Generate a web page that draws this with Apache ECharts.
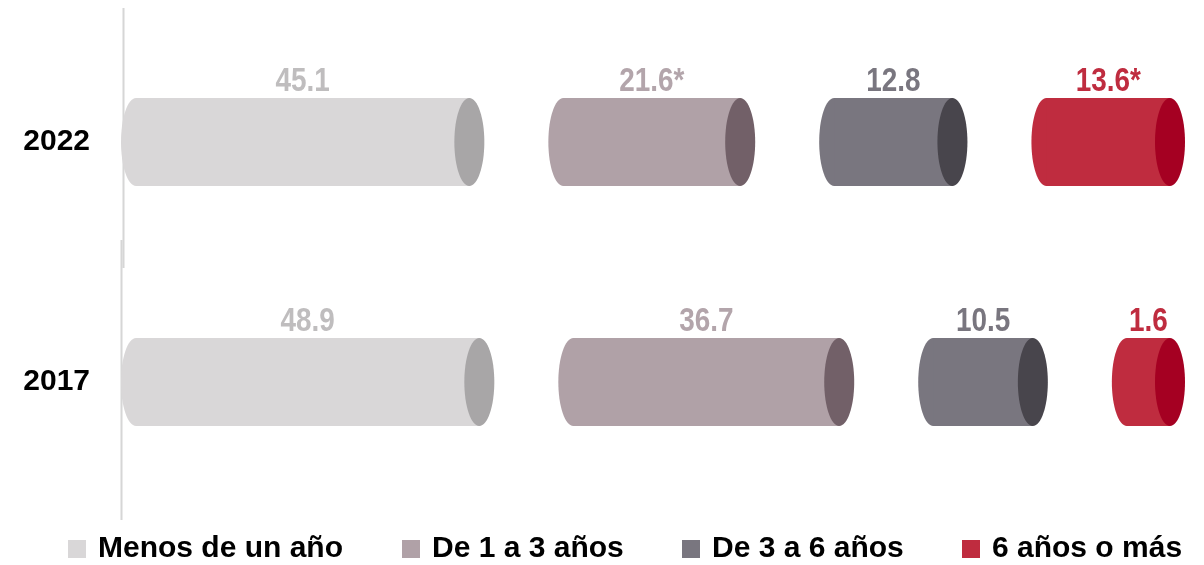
<!DOCTYPE html>
<html>
<head>
<meta charset="utf-8">
<script src="https://cdn.jsdelivr.net/npm/echarts@6/dist/echarts.min.js"></script>
<style>
html,body{margin:0;padding:0;background:#fff;}
#chart{width:1204px;height:565px;}
</style>
</head>
<body>
<div id="chart"></div>
<script>
// ---- data ----
const years = ['2022', '2017'];
const seriesNames = ['Menos de un año', 'De 1 a 3 años', 'De 3 a 6 años', '6 años o más'];
const menosDeUnAno = [45.1, 48.9];
const de1a3Anos = [21.6, 36.7];
const de3a6Anos = [12.8, 10.5];
const seisAnosOMas = [13.6, 1.6];
// significance markers shown after the value labels
const marks1 = ['', ''];
const marks2 = ['*', ''];
const marks3 = ['', ''];
const marks4 = ['*', ''];

const values = [menosDeUnAno, de1a3Anos, de3a6Anos, seisAnosOMas];
const marks = [marks1, marks2, marks3, marks4];

// ---- styles ----
const bodyColors = ['#D9D7D8', '#B0A1A7', '#79767F', '#BF2C3F'];
const capColors = ['#A8A6A7', '#726068', '#48454C', '#A50022'];
const labelColors = ['#BFBDBE', '#B3A5AB', '#79767F', '#BF2C3F'];
const FONT = '"Liberation Sans Narrow", "Liberation Sans", Arial, sans-serif';
const SEG_EXTRA = 63;  // px added to each cylinder (caps)
const GAP = 64;        // px between cylinders
const RX = 15;         // cap ellipse half-width
const BAR_H = 88;

// 100% stacked shares built from the arrays
const totals = years.map((y, r) => values.reduce((s, arr) => s + arr[r], 0));
function buildData(c) {
  return years.map((y, r) => {
    let cum = 0;
    for (let j = 0; j < c; j++) cum += values[j][r] / totals[r] * 100;
    const share = values[c][r] / totals[r] * 100;
    return [cum, r, share, values[c][r], marks[c][r]];
  });
}

function makeRender(c) {
  return function (params, api) {
    const cum = api.value(0), row = api.value(1), share = api.value(2);
    const p = api.coord([cum, row]);
    const w = api.size([share, 0])[0];
    const L = p[0] + c * (SEG_EXTRA + GAP);
    const W = SEG_EXTRA + w;
    const R = L + W;
    const top = p[1] - BAR_H / 2;
    const item = params.dataIndex;
    const d = buildData(c)[item];
    const txt = d[3].toFixed(1) + d[4];
    return {
      type: 'group',
      children: [
        { type: 'ellipse', shape: { cx: L + RX, cy: p[1], rx: RX, ry: BAR_H / 2 }, style: { fill: bodyColors[c] } },
        { type: 'rect', shape: { x: L + RX, y: top, width: W - 2 * RX, height: BAR_H }, style: { fill: bodyColors[c] } },
        { type: 'ellipse', shape: { cx: R - RX, cy: p[1], rx: RX, ry: BAR_H / 2 }, style: { fill: capColors[c] } },
        { type: 'text', x: (L + R) / 2, y: top + 1, scaleX: 0.82,
          style: { text: txt, fill: labelColors[c], font: 'bold 34px ' + FONT, align: 'center', verticalAlign: 'bottom' } }
      ]
    };
  };
}

const chart = echarts.init(document.getElementById('chart'), null, { renderer: 'canvas' });
const legendLefts = [68, 402, 682, 962];

chart.setOption({
  animation: false,
  grid: { left: 121, width: 620, top: 22, height: 480 },
  xAxis: { type: 'value', min: 0, max: 100, show: false },
  yAxis: {
    type: 'category', data: years, inverse: true,
    axisLine: { show: false }, axisTick: { show: false }, splitLine: { show: false },
    axisLabel: { margin: 31, color: '#000', fontSize: 30, fontWeight: 'bold', fontFamily: FONT }
  },
  legend: seriesNames.map((n, i) => ({
    data: [n], left: legendLefts[i], top: 534, padding: 0, icon: 'rect', itemWidth: 18, itemHeight: 18,
    selectedMode: false,
    textStyle: { color: '#000', fontSize: 30, fontWeight: 'bold', fontFamily: FONT, padding: [0, 0, 0, 7] }
  })),
  graphic: [
    { type: 'line', shape: { x1: 123.5, y1: 8, x2: 123.5, y2: 268 }, style: { stroke: '#D6D6D6', lineWidth: 2 } },
    { type: 'line', shape: { x1: 121.5, y1: 240, x2: 121.5, y2: 520 }, style: { stroke: '#D6D6D6', lineWidth: 2 } }
  ],
  series: seriesNames.map((n, c) => ({
    type: 'custom', name: n,
    itemStyle: { color: bodyColors[c] },
    encode: { x: 0, y: 1 },
    data: buildData(c),
    renderItem: makeRender(c),
    silent: true
  }))
});
</script>
</body>
</html>
